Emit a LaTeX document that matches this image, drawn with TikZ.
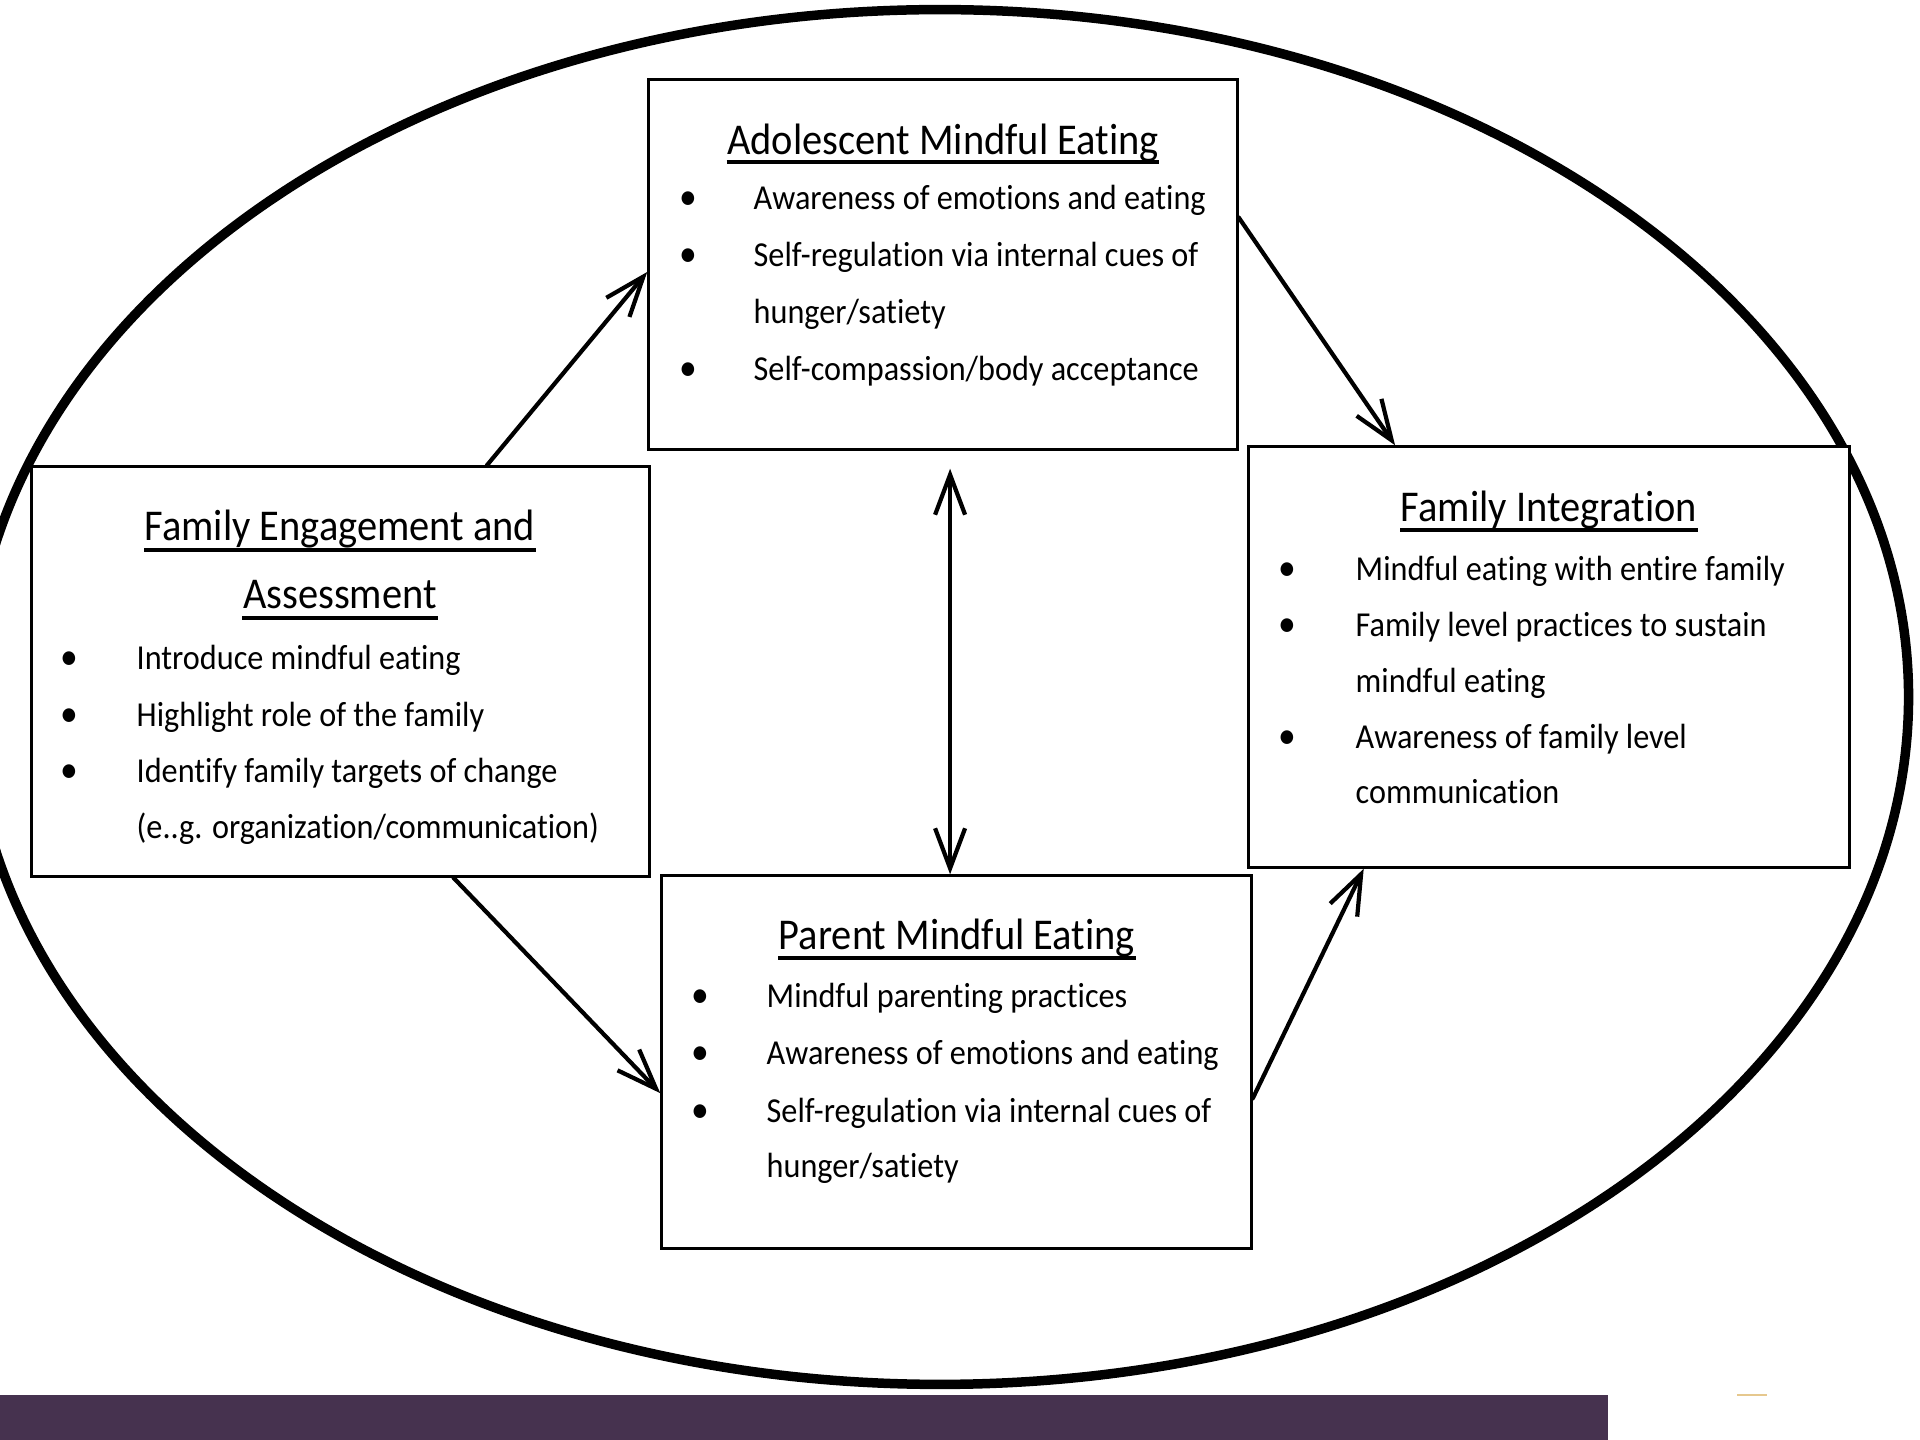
\documentclass[tikz,border=0pt]{standalone}
\usepackage{fontspec}
\setmainfont{Carlito}[FakeStretch=0.92, Ligatures=NoCommon]
\usetikzlibrary{arrows.meta,calc}
\definecolor{barpurple}{HTML}{46324F}
\definecolor{tanline}{HTML}{E6C88E}
\begin{document}
\begin{tikzpicture}[x=0.01cm,y=-0.01cm,
  box/.style={draw=black, line width=0.9pt, fill=white, inner sep=0pt},
  ttl/.style={inner sep=0pt, anchor=base, font=\fontsize{12.5pt}{15pt}\selectfont},
  txt/.style={inner sep=0pt, anchor=base west, font=\fontsize{9.96pt}{12pt}\selectfont},
  bul/.style={inner sep=0pt, anchor=base, font=\fontsize{11pt}{12pt}\selectfont},
  uline/.style={line width=1pt},
  conn/.style={line width=1.2pt, line cap=round, -{Straight Barb[length=0.4cm,width=0.3cm]}},
  dconn/.style={line width=1.2pt, line cap=round, {Straight Barb[length=0.4cm,width=0.3cm]}-{Straight Barb[length=0.4cm,width=0.3cm]}}
]
% page and background
\useasboundingbox (0,0) rectangle (1920,1440);
\clip (0,0) rectangle (1920,1440);
\fill[white] (0,0) rectangle (1920,1440);

% enclosing ellipse
\draw[line width=2.7pt] (940,697) ellipse [x radius=9.68cm, y radius=6.87cm];

% the four boxes
\node[box, minimum width=5.88cm, minimum height=3.69cm] (ame) at (943,264.5) {};
\node[box, minimum width=6.17cm, minimum height=4.09cm] (fe)  at (340.5,671.5) {};
\node[box, minimum width=6.00cm, minimum height=4.20cm] (fi)  at (1549,657) {};
\node[box, minimum width=5.89cm, minimum height=3.72cm] (pme) at (956.5,1062) {};

% Adolescent Mindful Eating
\node[ttl] (amt) at (943,155) {Adolescent Mindful Eating};
\draw[uline] ($(amt.base west)+(0,7)$) -- ($(amt.base east)+(0,7)$);
\node[bul] (amb1) at (688,210) {•};
\node[txt] (am1) at (753,210) {Awareness of emotions and eating};
\node[bul] (amb2) at (688,267) {•};
\node[txt] (am2) at (753,267) {Self-regulation via internal cues of};
\node[txt] (am3) at (753,324) {hunger/satiety};
\node[bul] (amb4) at (688,381) {•};
\node[txt] (am4) at (753,381) {Self-compassion/body acceptance};

% Family Engagement and Assessment
\node[ttl] (fet1) at (340,541) {Family Engagement and};
\draw[uline] ($(fet1.base west)+(0,9)$) -- ($(fet1.base east)+(0,9)$);
\node[ttl] (fet2) at (340,609) {Assessment};
\draw[uline] ($(fet2.base west)+(0,9)$) -- ($(fet2.base east)+(0,9)$);
\node[bul] (feb1) at (69,670) {•};
\node[txt] (fe1) at (136,670) {Introduce mindful eating};
\node[bul] (feb2) at (69,727) {•};
\node[txt] (fe2) at (136,727) {Highlight role of the family};
\node[bul] (feb3) at (69,783) {•};
\node[txt] (fe3) at (136,783) {Identify family targets of change};
\node[txt] (fe4) at (136,839) {(e..g. organization/communication)};

% Family Integration
\node[ttl] (fit) at (1549,522) {Family Integration};
\draw[uline] ($(fit.base west)+(0,8)$) -- ($(fit.base east)+(0,8)$);
\node[bul] (fib1) at (1287,581) {•};
\node[txt] (fi1) at (1355,581) {Mindful eating with entire family};
\node[bul] (fib2) at (1287,637) {•};
\node[txt] (fi2) at (1355,637) {Family level practices to sustain};
\node[txt] (fi3) at (1355,693) {mindful eating};
\node[bul] (fib4) at (1287,749) {•};
\node[txt] (fi4) at (1355,749) {Awareness of family level};
\node[txt] (fi5) at (1355,804) {communication};

% Parent Mindful Eating
\node[ttl] (pmt) at (957,950) {Parent Mindful Eating};
\draw[uline] ($(pmt.base west)+(0,8)$) -- ($(pmt.base east)+(0,8)$);
\node[bul] (pmb1) at (700,1008) {•};
\node[txt] (pm1) at (766,1008) {Mindful parenting practices};
\node[bul] (pmb2) at (700,1065) {•};
\node[txt] (pm2) at (766,1065) {Awareness of emotions and eating};
\node[bul] (pmb3) at (700,1123) {•};
\node[txt] (pm3) at (766,1123) {Self-regulation via internal cues of};
\node[txt] (pm4) at (766,1178) {hunger/satiety};

% connectors
\draw[conn] ($(fe.north west)!0.736!(fe.north east)$) -- ($(ame.north west)!0.52!(ame.south west)$);
\draw[conn] ($(ame.north east)!0.374!(ame.south east)$) -- ($(fi.north west)!0.245!(fi.north east)$);
\draw[conn] ($(fe.south west)!0.682!(fe.south east)$) -- ($(pme.north west)!0.583!(pme.south west)$);
\draw[conn] ($(pme.north east)!0.597!(pme.south east)$) -- ($(fi.south west)!0.193!(fi.south east)$);
\path ($(ame.south west)!0.512!(ame.south east)$) coordinate (dtop);
\draw[dconn, shorten <=0.18cm] (dtop) -- (dtop |- pme.north);

% footer band
\fill[barpurple] (0,1395) rectangle (1608,1440);
\draw[tanline, line width=0.6pt] (1737,1395) -- (1767,1395);
\end{tikzpicture}
\end{document}
